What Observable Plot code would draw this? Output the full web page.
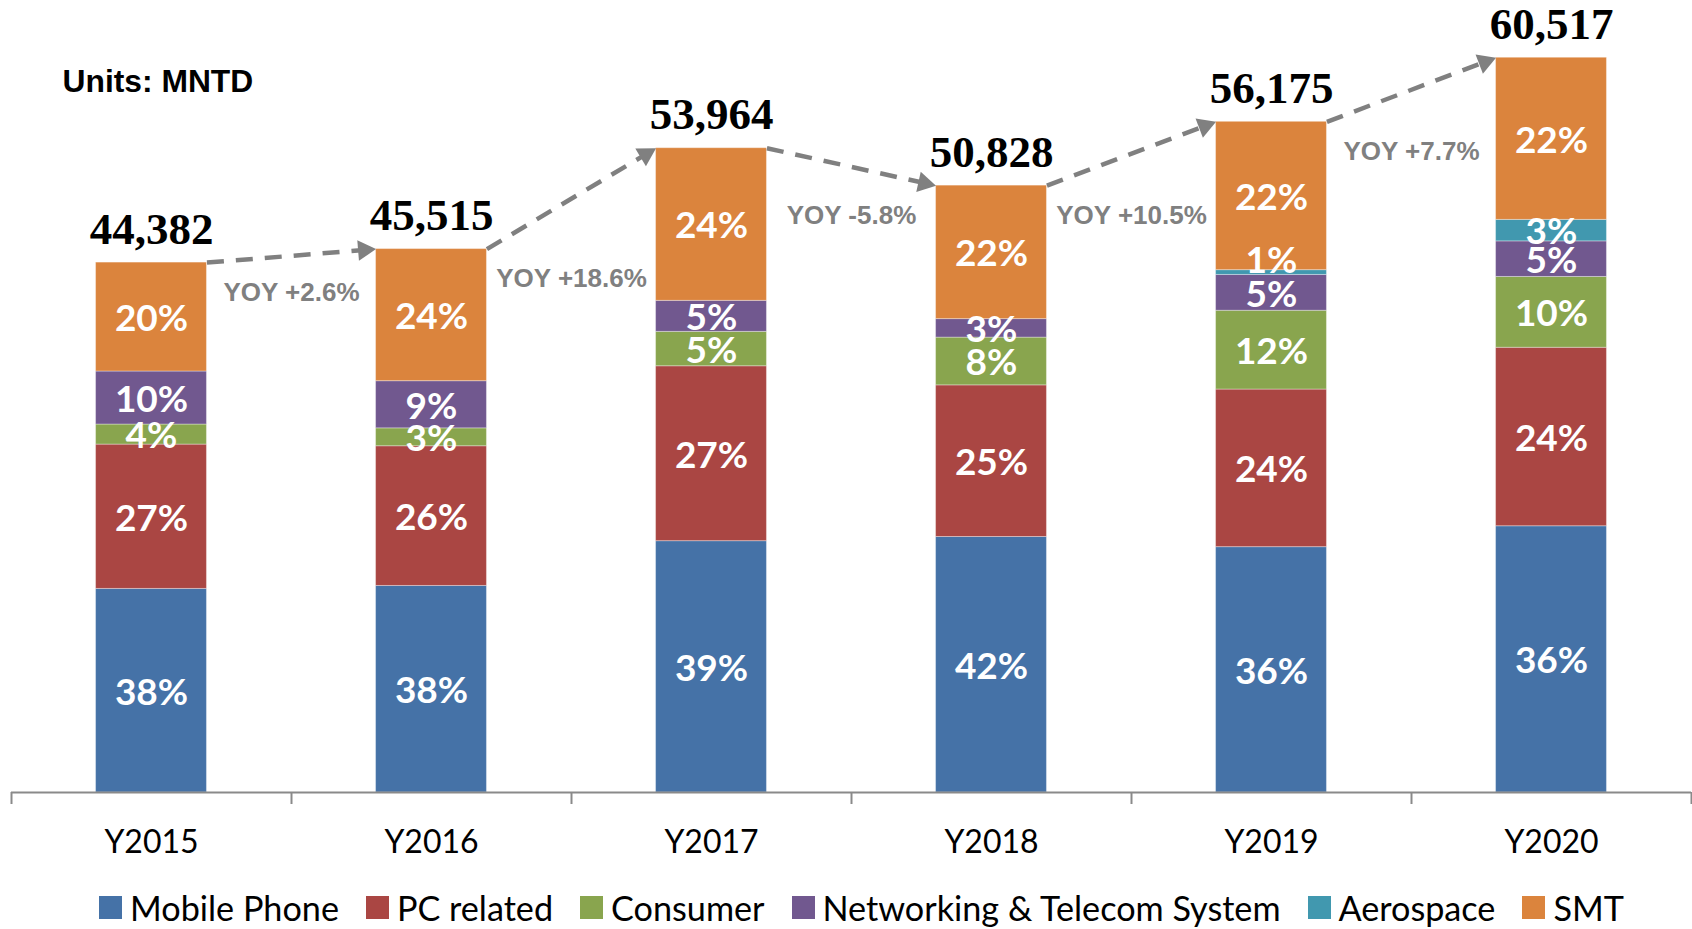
<!DOCTYPE html>
<html>
<head>
<meta charset="utf-8">
<script src="https://cdn.jsdelivr.net/npm/d3@7"></script>
<script src="https://cdn.jsdelivr.net/npm/@observablehq/plot@0.6"></script>
<style>
  html, body { margin: 0; padding: 0; background: #fff; overflow: hidden; }
  #chart svg { display: block; }
  #legend { height: 44px; padding-top: 15px; display: flex; justify-content: center; align-items: center; width: 1692px; }
  #legend .lg-swatches { justify-content: center; margin: 0; padding-left: 58px; }
  #legend .lg-swatch { margin-right: 27px !important; color: #000; }
  #legend .lg-swatch > svg { margin-right: 8px !important; }
</style>
</head>
<body>
<div id="chart"></div>
<div id="legend"></div>
<script>
// ---- data ----
const years = ["Y2015", "Y2016", "Y2017", "Y2018", "Y2019", "Y2020"];
const series = ["Mobile Phone", "PC related", "Consumer", "Networking & Telecom System", "Aerospace", "SMT"];
const colors = ["#4572A7", "#AA4643", "#89A54E", "#71588F", "#4198AF", "#DB843D"];

// segment values (MNTD)
const mobilePhone = [17050, 17300, 21050, 21400, 20550, 22300];
const pcRelated   = [12090, 11700, 14650, 12700, 13200, 14950];
const consumer    = [1680, 1500, 2880, 4000, 6600, 5930];
const networking  = [4440, 3950, 2600, 1550, 3000, 2980];
const aerospace   = [0, 0, 0, 0, 400, 1800];
const smt         = [9122, 11065, 12784, 11178, 12425, 13580];

// percentage labels as printed
const pctMobile     = ["38%", "38%", "39%", "42%", "36%", "36%"];
const pctPC         = ["27%", "26%", "27%", "25%", "24%", "24%"];
const pctConsumer   = ["4%", "3%", "5%", "8%", "12%", "10%"];
const pctNetworking = ["10%", "9%", "5%", "3%", "5%", "5%"];
const pctAerospace  = ["", "", "", "", "1%", "3%"];
const pctSMT        = ["20%", "24%", "24%", "22%", "22%", "22%"];

const totalLabels = ["44,382", "45,515", "53,964", "50,828", "56,175", "60,517"];
const yoyLabels = ["YOY +2.6%", "YOY +18.6%", "YOY -5.8%", "YOY +10.5%", "YOY +7.7%"];
const unitsLabel = "Units: MNTD";

// ---- build tables ----
const valueArrays = [mobilePhone, pcRelated, consumer, networking, aerospace, smt];
const pctArrays = [pctMobile, pctPC, pctConsumer, pctNetworking, pctAerospace, pctSMT];

const segments = [];
const sums = years.map((yr, i) => {
  let acc = 0;
  series.forEach((s, k) => {
    const v = valueArrays[k][i];
    if (v > 0) {
      segments.push({i, year: yr, series: s, y1: acc, y2: acc + v, label: pctArrays[k][i]});
    }
    acc += v;
  });
  return acc;
});

const W = 1692, H = 870;
const mTop = 4, mBottom = 78, mLeft = 11, mRight = 1;
const halfBar = 0.198;
const xOpts = {type: "linear", domain: [-0.5, 5.5], range: [mLeft, W - mRight]};
const yOpts = {type: "linear", domain: [0, 66000], range: [H - mBottom, mTop]};
const xs = Plot.scale({x: xOpts});
const ys = Plot.scale({y: yOpts});

const headLen = 12; // centroid-to-tip distance of the arrow head (px)
const arrows = yoyLabels.map((lab, i) => {
  const x1 = i + halfBar, y1 = sums[i];
  const x2 = i + 1 - halfBar, y2 = sums[i + 1];
  const px1 = xs.apply(x1), py1 = ys.apply(y1);
  const px2 = xs.apply(x2), py2 = ys.apply(y2);
  const L = Math.hypot(px2 - px1, py2 - py1);
  const ux = (px2 - px1) / L, uy = (py2 - py1) / L;
  const cx = px2 - headLen * ux, cy = py2 - headLen * uy;
  return {
    x1, y1,
    hx: xs.invert(cx), hy: ys.invert(cy),
    angle: Math.atan2(ux, -uy) * 180 / Math.PI,
    label: lab,
    lx: i + 0.5,
    ly: Math.min(sums[i], sums[i + 1])
  };
});

const totals = years.map((yr, i) => ({i, total: sums[i], label: totalLabels[i]}));

const isShifted = d => d.series === "Aerospace" && d.year === "Y2019";

const chart = Plot.plot({
  width: W,
  height: H,
  marginTop: mTop, marginRight: mRight, marginBottom: mBottom, marginLeft: mLeft,
  x: {...xOpts, axis: null},
  y: {...yOpts, axis: null},
  color: {domain: series, range: colors},
  style: {background: "white", overflow: "visible"},
  marks: [
    Plot.rect(segments, {
      x1: d => d.i - halfBar, x2: d => d.i + halfBar,
      y1: "y1", y2: "y2", fill: "series",
      stroke: "white", strokeOpacity: 0.35, strokeWidth: 1
    }),
    Plot.text(segments.filter(d => !isShifted(d)), {
      x: "i", y: d => (d.y1 + d.y2) / 2, text: "label", dy: 2,
      fill: "white", fontFamily: "Lato", fontWeight: 700, fontSize: 37,
      lineAnchor: "middle"
    }),
    Plot.text(segments.filter(isShifted), {
      x: "i", y: d => (d.y1 + d.y2) / 2, text: "label", dy: -11,
      fill: "white", fontFamily: "Lato", fontWeight: 700, fontSize: 37,
      lineAnchor: "middle"
    }),
    // axis line and boundary ticks
    Plot.ruleY([0], {x1: -0.5, x2: 5.5, stroke: "#8a8a8a", strokeWidth: 2}),
    Plot.axisX({
      ticks: d3.range(-0.5, 6, 1), tickSize: 12, tickFormat: () => "",
      stroke: "#8a8a8a", strokeWidth: 2, label: null
    }),
    Plot.axisX({
      ticks: d3.range(0, 6), tickSize: 0, tickPadding: 38,
      tickFormat: i => years[i], label: null,
      fontFamily: "Lato", fontSize: 32, fill: "#000"
    }),
    // YOY dashed arrows
    Plot.link(arrows, {
      x1: "x1", y1: "y1", x2: "hx", y2: "hy",
      stroke: "#808080", strokeWidth: 4.5, strokeDasharray: "17,12"
    }),
    Plot.dot(arrows, {
      x: "hx", y: "hy", symbol: "triangle", r: 7.7, rotate: "angle",
      fill: "#808080", stroke: "none"
    }),
    Plot.text(arrows, {
      x: "lx", y: "ly", text: "label", dy: 30,
      fill: "#808080", fontFamily: "Liberation Sans, Arial, sans-serif",
      fontWeight: 700, fontSize: 26, lineAnchor: "middle"
    }),
    // totals
    Plot.text(totals, {
      x: "i", y: "total", text: "label", dy: -19, lineAnchor: "bottom",
      fill: "#000", fontFamily: "Liberation Serif, serif", fontWeight: 700, fontSize: 45
    }),
    // units note
    Plot.text([unitsLabel], {
      frameAnchor: "top-left", dx: 51, dy: 77, text: d => d,
      textAnchor: "start", lineAnchor: "middle",
      fill: "#000", fontFamily: "Liberation Sans, Arial, sans-serif",
      fontWeight: 700, fontSize: 31.8
    })
  ]
});
document.getElementById("chart").appendChild(chart);

const legend = Plot.legend({
  color: {domain: series, range: colors},
  legend: "swatches",
  swatchSize: 23,
  className: "lg",
  style: {fontFamily: "Lato", fontSize: "34.2px", color: "#000"}
});
document.getElementById("legend").appendChild(legend);
</script>
</body>
</html>
